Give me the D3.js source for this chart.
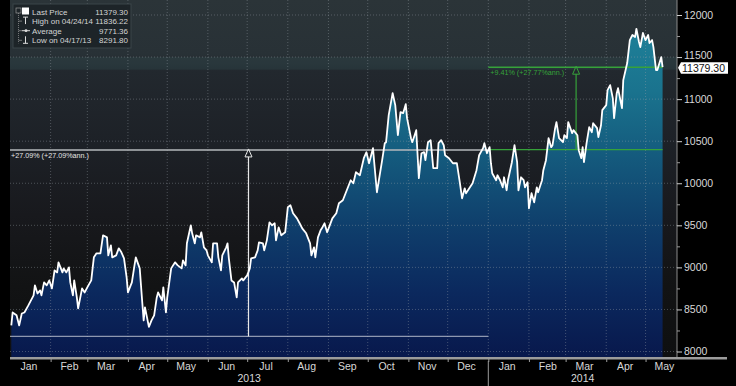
<!DOCTYPE html>
<html>
<head>
<meta charset="utf-8">
<script src="https://cdn.jsdelivr.net/npm/d3@7"></script>
<style>
  html, body { margin: 0; padding: 0; background: #000; }
  svg { display: block; font-family: "Liberation Sans", Arial, sans-serif; }
</style>
</head>
<body>
<svg id="chart" width="736" height="386"></svg>
<script>
// ---- data ----
const dates2013 = ["01-02","01-03","01-06","01-08","01-10","01-12","01-15","01-19","01-20","01-22","01-24","01-25","01-27","01-29","01-31",
  "02-02","02-04","02-06","02-07","02-10","02-11","02-13","02-15","02-16","02-18","02-19","02-21","02-22","02-25","02-27",
  "03-01","03-04","03-06","03-08","03-11","03-13","03-16","03-17","03-19","03-20","03-23","03-25","03-27","03-29","03-31",
  "04-01","04-04","04-06","04-07","04-10","04-12","04-13","04-14","04-17","04-19","04-21","04-23","04-24","04-27","04-28","04-30",
  "05-01","05-04","05-07","05-09","05-12","05-13","05-15","05-16","05-19","05-20","05-22","05-23","05-26","05-27","05-29","05-31",
  "06-01","06-04","06-05","06-08","06-09","06-11","06-12","06-15","06-16","06-17","06-19","06-21","06-23","06-24","06-27","06-28",
  "07-01","07-03","07-04","07-07","07-09","07-10","07-13","07-14","07-16","07-18","07-20","07-22","07-23","07-25","07-27","07-30",
  "08-01","08-03","08-05","08-08","08-10","08-12","08-15","08-18","08-19","08-21","08-22","08-24","08-26","08-27","08-29","08-31",
  "09-02","09-04","09-07","09-09","09-12","09-15","09-18","09-20","09-22","09-25","09-28","09-30",
  "10-02","10-05","10-06","10-08","10-12","10-14","10-15","10-17","10-20","10-22","10-24","10-26","10-28","10-30","10-31",
  "11-03","11-04","11-07","11-09","11-11","11-13","11-14","11-16","11-18","11-20","11-23","11-24","11-26","11-28","11-29",
  "12-02","12-05","12-08","12-10","12-12","12-14","12-15","12-18","12-20","12-23","12-25","12-28","12-29","12-31"];
const close2013 = [8310,8464,8430,8310,8452,8464,8548,8667,8786,8690,8726,8667,8821,8786,8845,
  8750,8964,8940,9060,8940,8988,8940,9000,8821,8667,8845,8643,8512,8750,8702,
  8762,8845,9119,9167,9167,9381,9357,9143,9262,9119,9143,9226,9179,9107,8881,
  8702,8821,9024,9119,8988,8571,8369,8524,8292,8369,8429,8643,8702,8607,8762,8464,
  8643,8988,9060,9024,8988,9083,9024,9286,9500,9405,9286,9381,9357,9417,9238,9202,
  9143,9060,9286,9286,9119,8964,9143,9238,9286,9107,8845,8821,8643,8821,8869,8845,
  8905,8988,9107,9119,9202,9298,9286,9202,9321,9536,9500,9524,9321,9476,9381,9417,
  9714,9738,9643,9583,9524,9464,9405,9286,9143,9238,9119,9357,9440,9464,9524,9417,
  9500,9583,9643,9762,9798,9917,10036,10000,10131,10095,10298,10369,
  10238,10417,10238,9893,10274,10476,10488,10810,11071,10929,10571,10845,10833,10940,10774,
  10536,10488,10631,10060,10357,10369,10274,10488,10512,10179,10179,10476,10512,10452,10333,
  10298,10238,10238,10036,9821,9940,9881,9952,10000,10155,10333,10417,10476,10357];
const dates2014 = ["01-02","01-03","01-04","01-07","01-08","01-10","01-12","01-13","01-15","01-16","01-19","01-21","01-23","01-24","01-26","01-28","01-29","01-31",
  "02-01","02-03","02-05","02-07","02-08","02-11","02-12","02-14","02-16","02-18","02-19","02-21","02-22","02-24","02-27","02-28",
  "03-02","03-03","03-06","03-07","03-10","03-11","03-13","03-14","03-15","03-17","03-19","03-21","03-22","03-25","03-26","03-28","03-29",
  "04-01","04-02","04-04","04-06","04-07","04-09","04-10","04-13","04-14","04-17","04-19","04-21","04-23","04-24","04-26","04-27","04-29",
  "05-01","05-03","05-04","05-06","05-07","05-09","05-10","05-13","05-14"];
const close2014 = [10429,10238,10119,10036,10095,10036,9952,10071,9917,10036,10250,10452,10250,9917,10071,10036,9952,10012,
  9702,9881,9774,9952,9893,10036,10155,10274,10536,10429,10452,10655,10726,10536,10488,10571,
  10536,10726,10595,10631,10571,10393,10298,10429,10250,10476,10667,10607,10714,10655,10548,10690,10869,
  10929,11107,11167,11012,10774,11071,11131,10893,11226,11429,11702,11762,11738,11836,11679,11619,11786,
  11702,11762,11667,11702,11619,11345,11345,11500,11379.3];

const legendLabels = ["Last Price", "High on 04/24/14", "Average", "Low on 04/17/13"];
const legendValues = ["11379.30", "11836.22", "9771.36", "8291.80"];
const yTicks = [8000, 8500, 9000, 9500, 10000, 10500, 11000, 11500, 12000];
const lastPrice = 11379.30;

// measurement annotations (from, to, low value, high value, arrow date, label)
const measure2013 = { from: "2013-01-01", to: "2014-01-01", lo: 8180, hi: 10396, arrow: "2013-07-02", text: "+27.09% (+27.09%ann.)" };
const measure2014 = { from: "2014-01-01", to: "2014-05-14", lo: 10400, hi: 11379.3, arrow: "2014-03-09", text: "+9.41% (+27.77%ann.)" };

const parse = d3.timeParse("%Y-%m-%d");
const data = dates2013.map((d, i) => ({ date: parse("2013-" + d), v: close2013[i] }))
  .concat(dates2014.map((d, i) => ({ date: parse("2014-" + d), v: close2014[i] })));

// ---- layout ----
const svg = d3.select("#chart");
const L = 10, R = 677, T = 0, B = 358;
const x = d3.scaleTime().domain([new Date(2013, 0, 1), new Date(2014, 4, 25)]).range([L, R]);
const y = d3.scaleLinear().domain([8000, 12000]).range([351.5, 15]);

const defs = svg.append("defs");
const bg = defs.append("linearGradient").attr("id", "bg").attr("gradientUnits", "userSpaceOnUse")
  .attr("x1", 0).attr("x2", 0).attr("y1", T).attr("y2", B);
[[0, "#2b3438"], [0.15, "#283136"], [0.2, "#22282e"], [0.4, "#1d2127"], [0.6, "#18191d"], [0.8, "#121314"], [1, "#0e0f10"]]
  .forEach(s => bg.append("stop").attr("offset", s[0]).attr("stop-color", s[1]));

const fillG = defs.append("linearGradient").attr("id", "fillG").attr("gradientUnits", "userSpaceOnUse")
  .attr("x1", 0).attr("x2", 0).attr("y1", y(11900)).attr("y2", B);
[[0, "#1f8199"], [0.2, "#1a738e"], [0.4, "#145a7d"], [0.6, "#0f3f6c"], [0.8, "#0b295e"], [1, "#08184c"]]
  .forEach(s => fillG.append("stop").attr("offset", s[0]).attr("stop-color", s[1]));

svg.append("rect").attr("x", L).attr("y", T).attr("width", R - L).attr("height", B - T).attr("fill", "url(#bg)");
svg.append("rect").attr("x", L).attr("y", y(11500)).attr("width", R - L).attr("height", y(11350) - y(11500))
  .attr("fill", "#3c6a6a").attr("opacity", 0.18);

// area
svg.append("path").datum(data)
  .attr("fill", "url(#fillG)")
  .attr("d", d3.area().x(d => x(d.date)).y0(B).y1(d => y(d.v)));

// grid
const grid = svg.append("g").attr("stroke", "#9aa3ab").attr("stroke-opacity", 0.4).attr("stroke-dasharray", "1,2");
grid.selectAll("line.h").data(yTicks).join("line")
  .attr("x1", L).attr("x2", R).attr("y1", d => y(d)).attr("y2", d => y(d));
const monthStarts = d3.timeMonth.range(new Date(2013, 1, 1), new Date(2014, 5, 1));
grid.selectAll("line.v").data(monthStarts).join("line")
  .attr("x1", d => x(d)).attr("x2", d => x(d)).attr("y1", T).attr("y2", B);

// measurement 2013 (white)
const m1 = svg.append("g");
m1.append("line").attr("x1", x(parse(measure2013.from))).attr("x2", x(parse(measure2013.to)))
  .attr("y1", y(measure2013.hi)).attr("y2", y(measure2013.hi)).attr("stroke", "#b4b8bc").attr("stroke-width", 1.6);
m1.append("line").attr("x1", x(parse(measure2013.from))).attr("x2", x(parse(measure2013.to)))
  .attr("y1", y(measure2013.lo)).attr("y2", y(measure2013.lo)).attr("stroke", "#c8ccd8").attr("stroke-opacity", 0.7).attr("stroke-width", 1.2);
const ax1 = x(parse(measure2013.arrow));
m1.append("line").attr("x1", ax1).attr("x2", ax1).attr("y1", y(measure2013.lo)).attr("y2", y(measure2013.hi) + 7)
  .attr("stroke", "#e8e8e8").attr("stroke-width", 1.2);
m1.append("path").attr("d", `M${ax1},${y(measure2013.hi) - 1}L${ax1 - 3.5},${y(measure2013.hi) + 7}L${ax1 + 3.5},${y(measure2013.hi) + 7}Z`)
  .attr("fill", "none").attr("stroke", "#e8e8e8").attr("stroke-width", 1);
m1.append("text").attr("x", L + 1).attr("y", y(measure2013.hi) + 8).attr("font-size", 7.2).attr("fill", "#e4e4e4")
  .text(measure2013.text);

// measurement 2014 (green)
const green = "#36a23a";
const m2 = svg.append("g");
[measure2014.lo, measure2014.hi].forEach(v => {
  m2.append("line").attr("x1", x(parse(measure2014.from))).attr("x2", x(parse(measure2014.to)))
    .attr("y1", y(v)).attr("y2", y(v)).attr("stroke", green).attr("stroke-width", 1.4);
});
const ax2 = x(parse(measure2014.arrow));
m2.append("line").attr("x1", ax2).attr("x2", ax2).attr("y1", y(measure2014.lo)).attr("y2", y(measure2014.hi) + 7)
  .attr("stroke", green).attr("stroke-width", 1.2);
m2.append("path").attr("d", `M${ax2},${y(measure2014.hi) - 1}L${ax2 - 3.5},${y(measure2014.hi) + 7}L${ax2 + 3.5},${y(measure2014.hi) + 7}Z`)
  .attr("fill", "none").attr("stroke", green).attr("stroke-width", 1);
m2.append("text").attr("x", x(parse(measure2014.from)) + 2).attr("y", y(measure2014.hi) + 7.5).attr("font-size", 7.2)
  .attr("fill", green).text(measure2014.text);

// price line
svg.append("path").datum(data)
  .attr("fill", "none").attr("stroke", "#ffffff").attr("stroke-width", 1.8).attr("stroke-linejoin", "round")
  .attr("d", d3.line().x(d => x(d.date)).y(d => y(d.v)));

// ---- right axis ----
const yAxis = svg.append("g").attr("transform", `translate(${R},0)`)
  .call(d3.axisRight(y).tickValues(yTicks).tickSize(5).tickPadding(2).tickFormat(d3.format("d")));
yAxis.select(".domain").attr("stroke", "#8c8c8c").attr("d", `M0,${T}V${B}`);
yAxis.selectAll(".tick line").attr("stroke", "#cfcfcf");
yAxis.selectAll(".tick text").attr("fill", "#d8d8d8").attr("font-size", 10.5)
  .attr("font-family", "'Liberation Sans', Arial, sans-serif")
  .attr("dy", d => d === 11500 ? "0.1em" : "0.32em");
svg.append("g").attr("transform", `translate(${R},0)`)
  .call(d3.axisRight(y).tickValues(yTicks.slice(0, -1).map(v => v + 250)).tickSize(3).tickFormat(""))
  .call(g => g.select(".domain").remove())
  .selectAll("line").attr("stroke", "#9a9a9a");

// last price tag
const ly = y(lastPrice);
svg.append("path").attr("d", `M${R + 1},${ly + 0.5}L${R + 4},${ly - 5}H${R + 51}V${ly + 6.5}H${R + 4}Z`)
  .attr("fill", "#ffffff");
svg.append("text").attr("x", R + 5).attr("y", ly + 4.8).attr("font-size", 10.5).attr("fill", "#111")
  .text(d3.format(".2f")(lastPrice));

// ---- bottom axis ----
svg.append("rect").attr("x", L).attr("y", B - 1).attr("width", 727 - L).attr("height", 2.5).attr("fill", "#9c9c9c");
const midMonths = d3.timeMonth.range(new Date(2013, 0, 1), new Date(2014, 5, 1)).map(d => new Date(d.getFullYear(), d.getMonth(), 15));
svg.append("g").attr("transform", `translate(0,${B + 1})`)
  .call(d3.axisBottom(x).tickValues(monthStarts).tickSize(3).tickFormat(""))
  .call(g => g.select(".domain").remove())
  .selectAll("line").attr("stroke", "#9c9c9c");
const xAxis = svg.append("g").attr("transform", `translate(0,${B + 1})`)
  .call(d3.axisBottom(x).tickValues(midMonths).tickSize(0).tickPadding(4).tickFormat(d3.timeFormat("%b")));
xAxis.select(".domain").remove();
xAxis.selectAll("text").attr("fill", "#d8d8d8").attr("font-size", 10.5)
  .attr("font-family", "'Liberation Sans', Arial, sans-serif");

const years = [[new Date(2013, 0, 1), new Date(2014, 0, 1)], [new Date(2014, 0, 1), x.domain()[1]]];
svg.selectAll("text.year").data(years).join("text")
  .attr("x", d => (x(d[0]) + x(d[1])) / 2).attr("y", 382).attr("text-anchor", "middle")
  .attr("font-size", 10.5).attr("fill", "#d8d8d8").text(d => d[0].getFullYear());
svg.append("line").attr("x1", x(new Date(2014, 0, 1))).attr("x2", x(new Date(2014, 0, 1)))
  .attr("y1", B + 3).attr("y2", 386).attr("stroke", "#9c9c9c");

// ---- legend ----
const lg = svg.append("g").attr("transform", "translate(13,4)");
lg.append("rect").attr("width", 118).attr("height", 44).attr("fill", "#1c2327").attr("fill-opacity", 0.92)
  .attr("stroke", "#3b4448").attr("stroke-width", 1);
const rowY = i => 10.5 + i * 9.6;
lg.append("rect").attr("x", 3).attr("y", 4).attr("width", 5).attr("height", 5).attr("fill", "none").attr("stroke", "#999").attr("stroke-width", 0.7);
lg.append("line").attr("x1", 5.5).attr("x2", 5.5).attr("y1", 9).attr("y2", rowY(3)).attr("stroke", "#999").attr("stroke-width", 0.7).attr("stroke-dasharray", "1,1");
[1, 2, 3].forEach(i => lg.append("line").attr("x1", 5.5).attr("x2", 9).attr("y1", rowY(i) - 3).attr("y2", rowY(i) - 3)
  .attr("stroke", "#999").attr("stroke-width", 0.7));
lg.append("rect").attr("x", 9).attr("y", rowY(0) - 7).attr("width", 7).attr("height", 7).attr("fill", "#ffffff");
lg.append("path").attr("d", `M10,${rowY(1) - 7}H15M12.5,${rowY(1) - 7}V${rowY(1)}`).attr("stroke", "#ddd").attr("fill", "none");
lg.append("path").attr("d", `M9,${rowY(2) - 3}H17`).attr("stroke", "#ddd").attr("fill", "none");
lg.append("circle").attr("cx", 13).attr("cy", rowY(2) - 3).attr("r", 1.4).attr("fill", "#ddd");
lg.append("path").attr("d", `M12.5,${rowY(3) - 7}V${rowY(3)}M10,${rowY(3)}H15`).attr("stroke", "#ddd").attr("fill", "none");
lg.selectAll("text.lab").data(legendLabels).join("text")
  .attr("x", 19).attr("y", (d, i) => rowY(i)).attr("font-size", 8).attr("fill", "#d4d4d4").text(d => d);
lg.selectAll("text.val").data(legendValues).join("text")
  .attr("x", 115).attr("y", (d, i) => rowY(i)).attr("text-anchor", "end").attr("font-size", 8).attr("fill", "#d4d4d4").text(d => d);
</script>
</body>
</html>
